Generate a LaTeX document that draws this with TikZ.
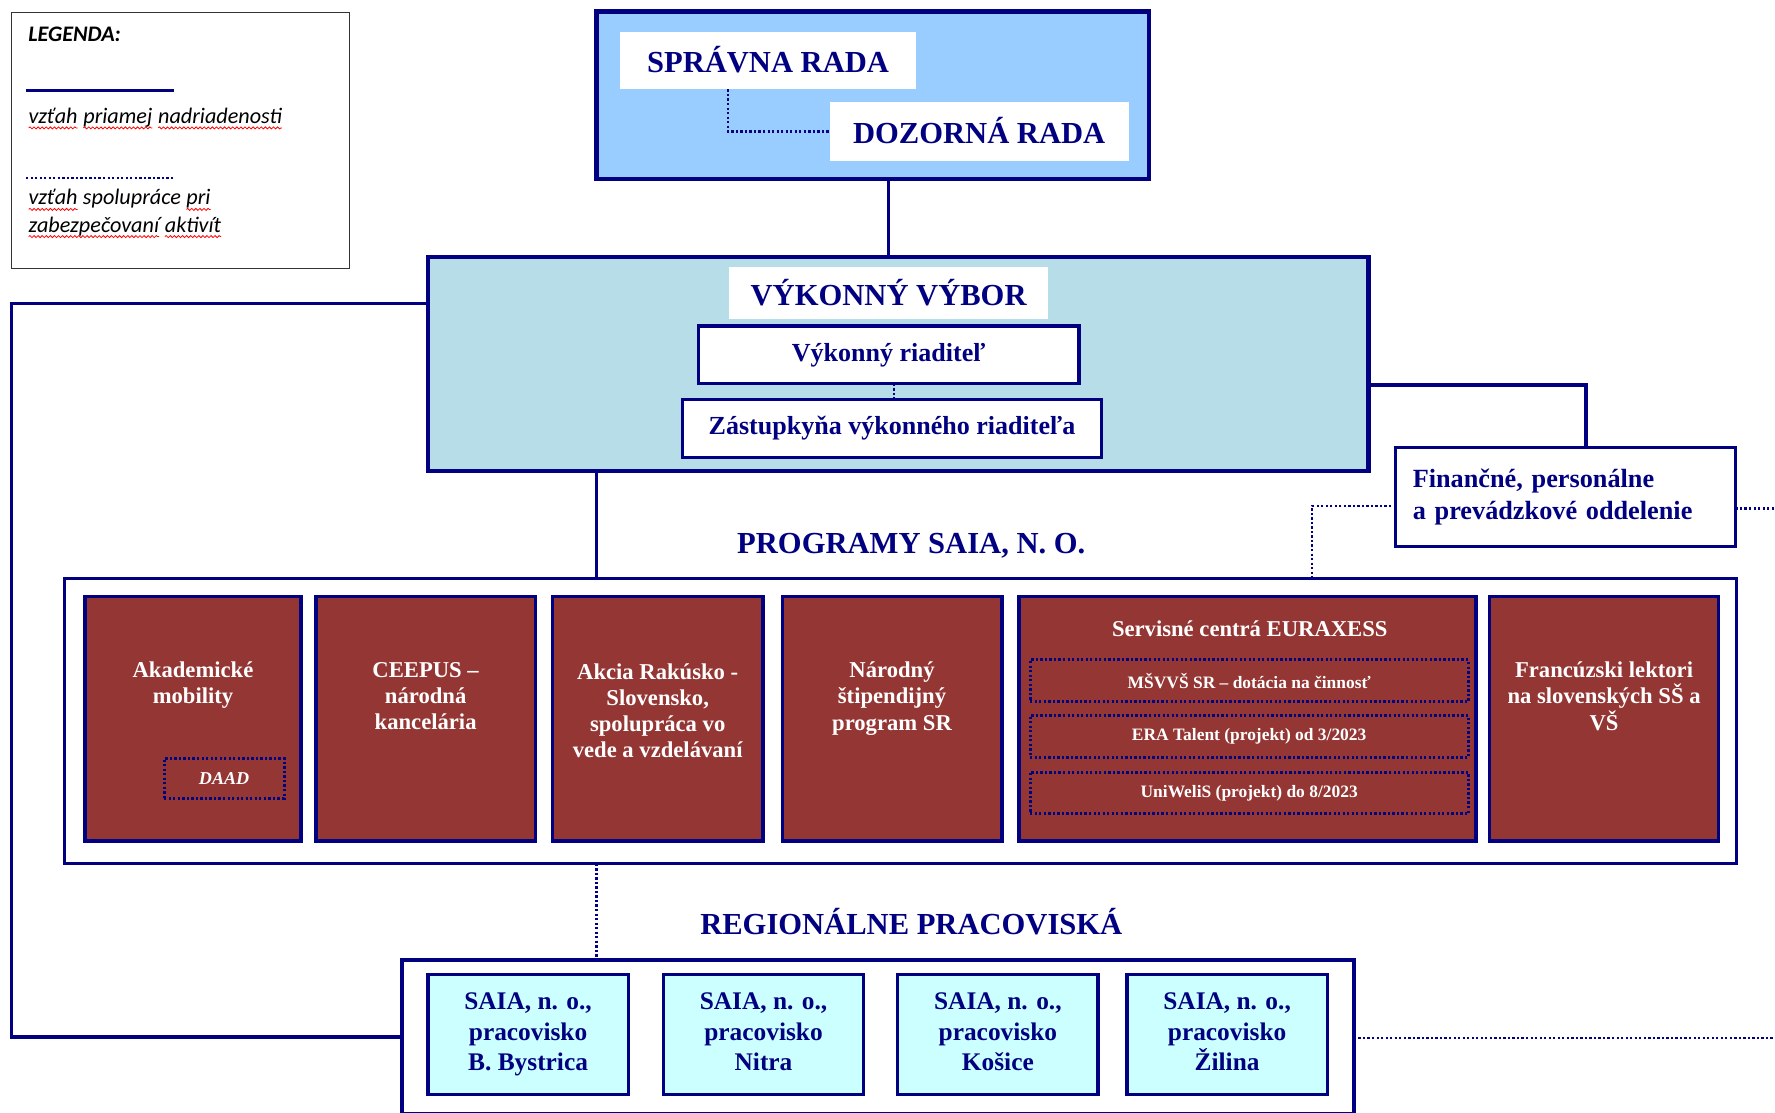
\documentclass[tikz,border=0pt]{standalone}
\usepackage{fontspec}
\setmainfont{Liberation Serif}
\newfontfamily\calibri{Carlito}
\usetikzlibrary{decorations.pathmorphing}
\newcommand\rwave[1]{\tikz[baseline=(wv.base),x=1pt,y=1pt]{\node[inner sep=0pt,outer sep=0pt,anchor=base west] (wv) at (0,0) {#1};\draw[red,line width=0.35pt,decorate,decoration={snake,amplitude=0.45pt,segment length=1.8pt}] ([yshift=-2pt]wv.base west) -- ([yshift=-2pt]wv.base east);}}
\definecolor{navy}{HTML}{000080}
\definecolor{topblue}{HTML}{99CCFF}
\definecolor{vvblue}{HTML}{B7DDE8}
\definecolor{wine}{HTML}{943634}
\definecolor{cyanl}{HTML}{CCFFFF}
\begin{document}
\begin{tikzpicture}[x=0.5pt,y=-0.5pt,
 every node/.style={inner sep=0pt,outer sep=0pt},
 frm/.style={rectangle,draw=navy,line width=2pt},
 conn/.style={draw=navy,line width=1.5pt},
 dotl/.style={draw=navy,line width=1.2pt,dash pattern=on 1pt off 1pt},
 plain/.style={rectangle,fill=white},
 ttl/.style={text=navy,font=\bfseries\fontsize{13.5}{16}\selectfont},
 mid/.style={rectangle,fill=white,draw=navy,line width=1.5pt,text=navy,font=\bfseries\fontsize{11.5}{14}\selectfont},
 redbox/.style={rectangle,fill=wine,draw=navy,line width=1.5pt},
 redtxt/.style={anchor=north,text=white,align=center,font=\bfseries\fontsize{10}{11.5}\selectfont},
 subbox/.style={rectangle,draw=navy,line width=1.3pt,dash pattern=on 1pt off 1pt,text=white,font=\bfseries\fontsize{7.7}{9}\selectfont},
 regbox/.style={rectangle,fill=cyanl,draw=navy,line width=1.5pt,text=navy,align=center,font=\bfseries\fontsize{11.2}{13.5}\selectfont},
 legtxt/.style={anchor=base west,font=\calibri\itshape\fontsize{9.8}{11}\selectfont}
]
\useasboundingbox (0,0) rectangle (1568,983);
% legend
\node[rectangle,draw=black!80,line width=0.6pt,minimum width=149.5pt,minimum height=113pt] (leg) at (159.5,124) {};
\node[legtxt,font=\calibri\bfseries\itshape\fontsize{9.8}{11}\selectfont] (legT) at (25,37) {LEGENDA:};
\coordinate (ls1) at (23,80); \coordinate (ls2) at (154,80);
\draw[navy,line width=1pt] (ls1) -- (ls2);
\node[legtxt] (leg1) at (25,109) {\rwave{vzťah} \rwave{priamej} \rwave{nadriadenosti}};
\coordinate (ld1) at (23,157); \coordinate (ld2) at (154,157);
\draw[dotl,line width=1pt] (ld1) -- (ld2);
\node[legtxt] (leg2) at (25,181) {\rwave{vzťah} spolupráce \rwave{pri}};
\node[legtxt] (leg3) at (25,205) {\rwave{zabezpečovaní} \rwave{aktivít}};
% top
\node[frm,fill=topblue,minimum width=244pt,minimum height=74pt] (top) at (771,84) {};
\node[plain,ttl,minimum width=130.5pt,minimum height=25.5pt] (SR) at (678.5,53.5) {\raisebox{1pt}{SPRÁVNA RADA}};
\node[plain,ttl,minimum width=132pt,minimum height=26pt] (DR) at (865,116) {\raisebox{1pt}{DOZORNÁ RADA}};
\draw[dotl] ([xshift=-17.75pt]SR.south) |- (DR.west);
% vykonny vybor
\node[frm,fill=vvblue,minimum width=415.5pt,minimum height=94.5pt] (vv) at (793.5,321.5) {};
\node[plain,ttl,minimum width=141pt,minimum height=23pt] (vvt) at (785,259) {\raisebox{0.5pt}{VÝKONNÝ VÝBOR}};
\node[mid,minimum width=168pt,minimum height=25.5pt] (vr) at (785,313.5) {\raisebox{0.5pt}{Výkonný riaditeľ}};
\node[mid,minimum width=185pt,minimum height=25.5pt] (zr) at (788,378.5) {Zástupkyňa výkonného riaditeľa};
\draw[dotl,line width=0.8pt] ([xshift=2.5pt]vr.south) -- ([xshift=2.5pt]vr.south |- zr.north);
\draw[conn] (top.south -| vvt.north) -- (vv.north -| vvt.north);
% financne
\node[rectangle,fill=white,draw=navy,line width=1.3pt,minimum width=150pt,minimum height=44pt,text width=135pt,align=left,text=navy,font=\bfseries\fontsize{11.6}{14}\selectfont] (fin) at (1383,439) {Finančné, personálne\\a prevádzkové oddelenie};
% programs
\node[ttl] (progt) at (805,482) {PROGRAMY SAIA, N. O.};
\node[rectangle,fill=white,draw=navy,line width=1.5pt,minimum width=738.5pt,minimum height=126pt] (prog) at (795.5,637) {};
\node[redbox,minimum width=95.5pt,minimum height=108pt] (p1) at (170.5,635) {};
\node[redtxt] (p1t) at (170.5,585) {Akademické\\mobility};
\node[subbox,font=\bfseries\itshape\fontsize{8}{9}\selectfont,minimum width=53pt,minimum height=17.5pt] (daad) at (198,687.5) {DAAD};
\node[redbox,minimum width=97pt,minimum height=108pt] (p2) at (376,635) {};
\node[redtxt] (p2t) at (376,585) {CEEPUS –\\národná\\kancelária};
\node[redbox,minimum width=93pt,minimum height=108pt] (p3) at (581,635) {};
\node[redtxt] (p3t) at (581,586) {Akcia Rakúsko -\\Slovensko,\\spolupráca vo\\vede a vzdelávaní};
\node[redbox,minimum width=97pt,minimum height=108pt] (p4) at (788,635) {};
\node[redtxt] (p4t) at (788,585) {Národný\\štipendijný\\program SR};
\node[redbox,minimum width=202pt,minimum height=108pt] (p5) at (1102,635) {};
\node[text=white,font=\bfseries\fontsize{10}{11.5}\selectfont] (p5t) at (1104,555) {Servisné centrá EURAXESS};
\node[subbox,minimum width=193.5pt,minimum height=18.5pt] (s1) at (1103.5,601.5) {MŠVVŠ SR – dotácia na činnosť};
\node[subbox,minimum width=193.5pt,minimum height=18.5pt] (s2) at (1103.5,650.5) {ERA Talent (projekt) od 3/2023};
\node[subbox,minimum width=193.5pt,minimum height=18.5pt] (s3) at (1103.5,700.5) {UniWeliS (projekt) do 8/2023};
\node[redbox,minimum width=101pt,minimum height=108pt] (p6) at (1417,635) {};
\node[redtxt] (p6t) at (1417,585) {Francúzski lektori\\na slovenských SŠ a\\VŠ};
% regional
\node[ttl] (regt) at (805,815) {\raisebox{1pt}{REGIONÁLNE PRACOVISKÁ}};
\node[rectangle,fill=white,draw=navy,line width=1.5pt,minimum width=420.5pt,minimum height=68pt] (reg) at (775.5,916) {};
\node[regbox,minimum width=88.5pt,minimum height=53pt] (r1) at (466.5,914) {SAIA, n. o.,\\pracovisko\\B. Bystrica\vphantom{y}};
\node[regbox,minimum width=88.5pt,minimum height=53pt] (r2) at (674.5,914) {SAIA, n. o.,\\pracovisko\\Nitra\vphantom{y}};
\node[regbox,minimum width=88.5pt,minimum height=53pt] (r3) at (881.5,914) {SAIA, n. o.,\\pracovisko\\Košice\vphantom{y}};
\node[regbox,minimum width=88.5pt,minimum height=53pt] (r4) at (1084,914) {SAIA, n. o.,\\pracovisko\\Žilina\vphantom{y}};
% connectors
\coordinate (lft) at (10,268);
\draw[conn] (vv.west |- lft) -- (lft) |- (reg.west);
\coordinate (rgt) at (1401,340);
\draw[conn] (vv.east |- rgt) -- (rgt) -- (rgt |- fin.north);
\coordinate (fl) at (1159,447);
\draw[dotl] (fin.west |- fl) -- (fl) -- (fl |- prog.north);
\coordinate (fr) at (1568,449);
\draw[dotl] (fin.east |- fr) -- (fr);
\coordinate (vd) at (527,500);
\draw[conn] (vv.south -| vd) -- (prog.north -| vd);
\draw[dotl] (prog.south -| vd) -- (reg.north -| vd);
\coordinate (rr) at (1568,917);
\draw[dotl] (reg.east |- rr) -- (rr);
\end{tikzpicture}
\end{document}
